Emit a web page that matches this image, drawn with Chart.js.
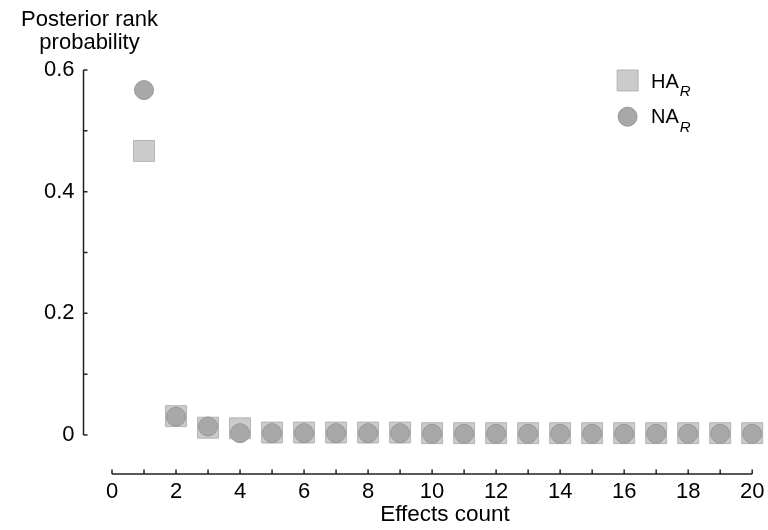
<!DOCTYPE html>
<html><head><meta charset="utf-8">
<script src="https://cdn.jsdelivr.net/npm/chart.js@4.4.1/dist/chart.umd.min.js"></script>
<style>html,body{margin:0;padding:0;background:#fff}#wrap{width:768px;height:530px}</style>
</head><body><div id="wrap"><canvas id="c" width="768" height="530"></canvas></div>
<script>
const effectsCount = [1,2,3,4,5,6,7,8,9,10,11,12,13,14,15,16,17,18,19,20];
const haR = [0.467,0.031,0.012,0.011,0.004,0.004,0.004,0.004,0.004,0.003,0.003,0.003,0.003,0.003,0.003,0.003,0.003,0.003,0.003,0.003];
const naR = [0.567,0.030,0.014,0.003,0.003,0.003,0.003,0.003,0.003,0.002,0.002,0.002,0.002,0.002,0.002,0.002,0.002,0.002,0.002,0.002];
const xTickLabels = ['0','2','4','6','8','10','12','14','16','18','20'];
const yTickLabels = ['0','0.2','0.4','0.6'];
const xMinorTicks = [0,1,2,3,4,5,6,7,8,9,10,11,12,13,14,15,16,17,18,19,20];
const yMinorTicks = [0,0.1,0.2,0.3,0.4,0.5,0.6];
const seriesNames = ['HA', 'NA'];
const yTitle = ['Posterior rank', 'probability'];
const xTitle = 'Effects count';

const FONT = '"Liberation Sans", Arial, Helvetica, sans-serif';
const haStyle = {pointStyle:'rect', radius:14.8, backgroundColor:'#cbcbcb', borderColor:'#b3b3b3', borderWidth:1};
const naStyle = {pointStyle:'circle', radius:9.5, backgroundColor:'#a8a8a8', borderColor:'#979797', borderWidth:1};

const customDraw = {
  id: 'customDraw',
  afterDraw(chart) {
    const ctx = chart.ctx;
    const xs = chart.scales.x, ys = chart.scales.y;
    const ca = chart.chartArea;
    ctx.save();
    ctx.strokeStyle = '#222';
    ctx.lineWidth = 1.5;
    // y axis (offset left)
    const axX = ca.left - 28.5;
    ctx.beginPath();
    ctx.moveTo(axX, ys.getPixelForValue(0));
    ctx.lineTo(axX, ys.getPixelForValue(0.6));
    yMinorTicks.forEach(v => {
      const p = ys.getPixelForValue(v);
      ctx.moveTo(axX, p); ctx.lineTo(axX + 4, p);
    });
    ctx.stroke();
    // x axis (offset below)
    const axY = ca.bottom + 39;
    ctx.beginPath();
    ctx.moveTo(xs.getPixelForValue(0), axY);
    ctx.lineTo(xs.getPixelForValue(20), axY);
    xMinorTicks.forEach(v => {
      const p = xs.getPixelForValue(v);
      ctx.moveTo(p, axY); ctx.lineTo(p, axY - 4.5);
    });
    ctx.stroke();
    // titles
    ctx.fillStyle = '#000';
    ctx.textAlign = 'center';
    ctx.textBaseline = 'alphabetic';
    ctx.font = '22px ' + FONT;
    ctx.fillText(yTitle[0], 89.5, 26);
    ctx.fillText(yTitle[1], 89.5, 48.5);
    ctx.font = '22.5px ' + FONT;
    ctx.fillText(xTitle, 445, 521);
    // legend
    const items = [[seriesNames[0], haStyle, 80.5, 88, 96], [seriesNames[1], naStyle, 116.7, 122.7, 131.5]];
    items.forEach(([name, st, cy, base, subBase]) => {
      ctx.fillStyle = st.backgroundColor;
      ctx.strokeStyle = st.borderColor;
      ctx.lineWidth = st.borderWidth;
      Chart.helpers.drawPoint(ctx, {pointStyle: st.pointStyle, radius: st.radius, rotation: 0, borderWidth: st.borderWidth}, 627.6, cy);
      ctx.fillStyle = '#000';
      ctx.textAlign = 'left';
      ctx.font = '20px ' + FONT;
      ctx.fillText(name, 651, base);
      const w = ctx.measureText(name).width;
      ctx.font = 'italic 15px ' + FONT;
      ctx.fillText('R', 651 + w + 1, subBase);
    });
    ctx.restore();
  }
};

new Chart(document.getElementById('c'), {
  type: 'scatter',
  data: {
    datasets: [
      Object.assign({label: 'HA_R', order: 2, clip: false, data: effectsCount.map((x,i)=>({x, y: haR[i]}))}, haStyle),
      Object.assign({label: 'NA_R', order: 1, clip: false, data: effectsCount.map((x,i)=>({x, y: naR[i]}))}, naStyle)
    ]
  },
  options: {
    responsive: false,
    devicePixelRatio: 1,
    animation: false,
    layout: {padding: {left: 0, top: 70, right: 15, bottom: 0}},
    plugins: {legend: {display: false}, tooltip: {enabled: false}},
    scales: {
      x: {
        type: 'linear', min: 0, max: 20,
        grid: {display: false, drawTicks: false},
        border: {display: false},
        afterFit(s) { s.height = 95; s.paddingLeft = 0; s.paddingRight = 0; },
        afterBuildTicks(s) { s.ticks = xTickLabels.map(t => ({value: Number(t)})); },
        ticks: {padding: 44, color: '#000', font: {family: FONT, size: 22}, maxRotation: 0, autoSkip: false,
          callback: (v) => xTickLabels.includes(String(v)) ? String(v) : ''}
      },
      y: {
        type: 'linear', min: 0, max: 0.6,
        grid: {display: false, drawTicks: false},
        border: {display: false},
        afterFit(s) { s.width = 112; s.paddingTop = 0; s.paddingBottom = 0; },
        afterBuildTicks(s) { s.ticks = yTickLabels.map(t => ({value: Number(t)})); },
        ticks: {padding: 37.5, color: '#000', font: {family: FONT, size: 22},
          callback: (v) => yTickLabels.find(t => Math.abs(Number(t) - v) < 1e-9) || ''}
      }
    }
  },
  plugins: [customDraw]
});
</script>
</body></html>
